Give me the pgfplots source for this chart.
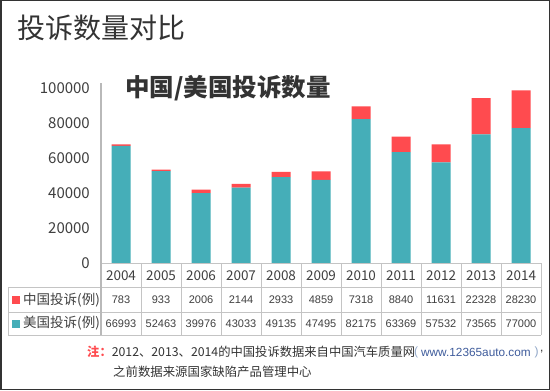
\documentclass[border=0pt]{standalone}
\usepackage{fontspec}
\setmainfont{Noto Sans CJK SC}
\newfontfamily\arialf{Liberation Sans}
\usepackage{pgfplots}
\pgfplotsset{compat=1.18}
\definecolor{teal1}{HTML}{45AEB8}
\definecolor{red1}{HTML}{FF4B4F}
\definecolor{txt}{HTML}{404040}
\definecolor{ttl}{HTML}{333333}
\definecolor{grid1}{HTML}{C4C4C4}
\definecolor{url}{HTML}{3F5C9C}
\definecolor{par}{HTML}{8FA6C8}
\newcommand\fs[1]{\fontsize{#1bp}{#1bp}\selectfont}
\begin{document}
\begin{tikzpicture}[x=1bp,y=1bp]
\useasboundingbox (0,0) rectangle (550,390);
\fill[white] (0,0) rectangle (550,390);
\begin{axis}[
  at={(101bp,127bp)}, anchor=south west,
  scale only axis, width=440bp, height=175bp,
  xmin=-0.5, xmax=10.5, ymin=0, ymax=100000,
  ybar stacked, bar width=19bp,
  axis x line*=bottom, axis y line*=left,
  x axis line style={draw=none}, y axis line style={draw=none},
  xtick=\empty,
  ytick={0,20000,40000,60000,80000,100000},
  yticklabels={0,20000,40000,60000,80000,100000},
  scaled y ticks=false,
  major tick length=0pt,
  yticklabel style={font=\fs{15}, text=txt, anchor=east, inner sep=0pt, xshift=-11bp},
  clip=false,
]
\addplot[fill=teal1, draw=none] coordinates {
(0,66993) (1,52463) (2,39976) (3,43033) (4,49135) (5,47495) (6,82175) (7,63369) (8,57532) (9,73565) (10,77000)};
\addplot[fill=red1, draw=none] coordinates {
(0,783) (1,933) (2,2006) (3,2144) (4,2933) (5,4859) (6,7318) (7,8840) (8,10300) (9,20700) (10,21600)};
\end{axis}
% table grid
\draw[grid1, line width=0.8bp] (101,127) -- (541,127);
\draw[grid1, line width=0.8bp] (8,103) -- (541,103);
\draw[grid1, line width=0.8bp] (8,78) -- (541,78);
\draw[grid1, line width=0.8bp] (8,55) -- (541,55);
\draw[grid1, line width=0.8bp] (8,55) -- (8,103);
\foreach \k in {1,...,11} \draw[grid1, line width=0.8bp] (101+40*\k,55) -- (101+40*\k,127);
\draw[gray!55, line width=1.3bp] (101,55) -- (101,307);
% years
\foreach \yr [count=\i from 0] in {2004,2005,2006,2007,2008,2009,2010,2011,2012,2013,2014}
  \node[text=txt, font=\fs{13.5}] at (121+40*\i,114.5) {\yr};
\foreach \v [count=\i from 0] in {783,933,2006,2144,2933,4859,7318,8840,11631,22328,28230}
  \node[text=txt, font=\arialf\fs{11}] at (121+40*\i,90) {\v};
\foreach \v [count=\i from 0] in {66993,52463,39976,43033,49135,47495,82175,63369,57532,73565,77000}
  \node[text=txt, font=\arialf\fs{11}] at (121+40*\i,66.5) {\v};
% legend
\fill[red1] (12,86) rectangle (20,94);
\fill[teal1] (12,62.5) rectangle (20,70.5);
\node[anchor=west, inner sep=0pt, text=txt, font=\fs{13.5}] at (23,90) {中国投诉(例)};
\node[anchor=west, inner sep=0pt, text=txt, font=\fs{13.5}] at (23,66.5) {美国投诉(例)};
% titles
\node[anchor=west, inner sep=0pt, text=ttl, font=\fs{28}] at (17,362) {投诉数量对比};
\node[anchor=west, inner sep=0pt, text=ttl, font=\bfseries\fs{24.5}] at (125,302) {中国/美国投诉数量};
% footnote
\node[anchor=west, inner sep=0pt, font=\fs{12.3}] at (87,38) {\textcolor{red1}{\bfseries 注：}\textcolor{ttl}{2012、2013、2014的中国投诉数据来自中国汽车质量网}};
\node[anchor=west, inner sep=0pt, text=par, font=\arialf\fs{12}] at (414,38) {(};
\node[anchor=west, inner sep=0pt, text=url, font=\arialf\fs{11.8}] at (421,38) {www.12365auto.com};
\node[anchor=west, inner sep=0pt, text=par, font=\arialf\fs{12}] at (534.5,38) {)};
\node[anchor=west, inner sep=0pt, text=ttl, font=\arialf\fs{12}] at (540,38) {,};
\node[anchor=west, inner sep=0pt, text=ttl, font=\fs{12.4}] at (113,18) {之前数据来源国家缺陷产品管理中心};
% border
\draw[ttl, line width=1.5bp] (0.75,0.75) rectangle (549.25,389.25);
\end{tikzpicture}
\end{document}
